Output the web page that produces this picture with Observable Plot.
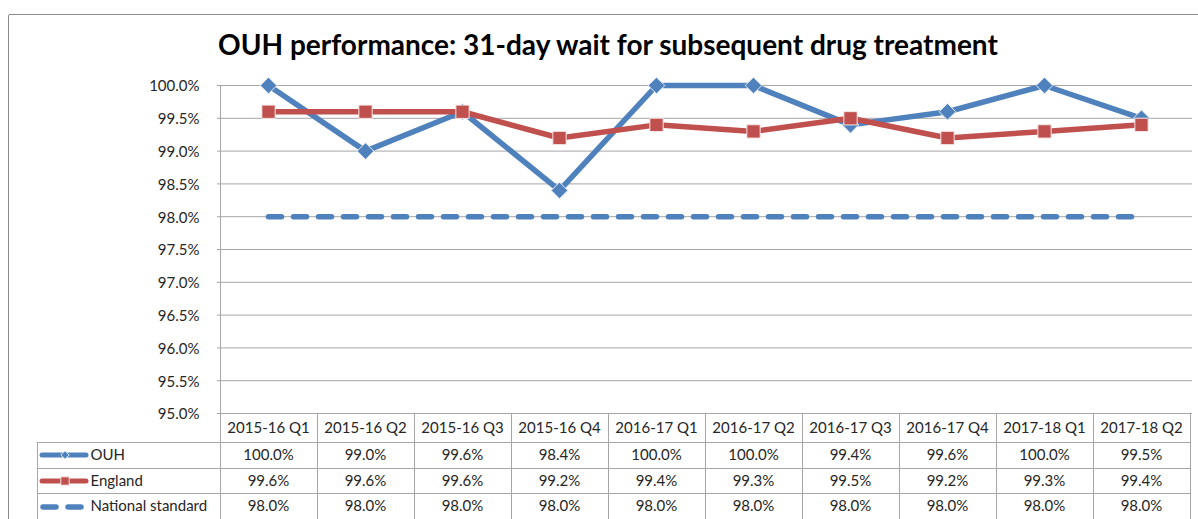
<!DOCTYPE html>
<html>
<head>
<meta charset="utf-8">
<script src="https://cdn.jsdelivr.net/npm/d3@7"></script>
<script src="https://cdn.jsdelivr.net/npm/@observablehq/plot@0.6"></script>
<style>
  body { margin: 0; background: #fff; }
  #wrap { position: relative; width: 1198px; height: 519px; overflow: hidden; font-family: Lato, "Open Sans", sans-serif; }
  #wrap svg { position: absolute; left: 0; top: 0; }
  #title { position: absolute; left: 8px; width: 1200px; top: 30px; text-align: center; font-weight: bold; font-size: 28px; line-height: 28px; color: #000; z-index: 2; }
</style>
</head>
<body>
<div id="wrap">
  <div id="title">OUH performance: 31-day wait for subsequent drug treatment</div>
</div>
<script>
const quarters = ["2015-16 Q1", "2015-16 Q2", "2015-16 Q3", "2015-16 Q4", "2016-17 Q1", "2016-17 Q2", "2016-17 Q3", "2016-17 Q4", "2017-18 Q1", "2017-18 Q2"];
const ouh = [1.000, 0.990, 0.996, 0.984, 1.000, 1.000, 0.994, 0.996, 1.000, 0.995];
const england = [0.996, 0.996, 0.996, 0.992, 0.994, 0.993, 0.995, 0.992, 0.993, 0.994];
const nationalStandard = [0.980, 0.980, 0.980, 0.980, 0.980, 0.980, 0.980, 0.980, 0.980, 0.980];
const yTicks = [0.950, 0.955, 0.960, 0.965, 0.970, 0.975, 0.980, 0.985, 0.990, 0.995, 1.000];
const seriesNames = ["OUH", "England", "National standard"];

const BLUE = "#4f81bd", RED = "#c0504d", GRID = "#a6a6a6", TXT = "#262626";
const pct = d3.format(".1%");

const data = quarters.map((q, i) => ({quarter: q, ouh: ouh[i], england: england[i], standard: nationalStandard[i]}));
const rowDy = [46, 72, 97];
const rowKeys = ["ouh", "england", "standard"];

const plot = Plot.plot({
  width: 1198,
  height: 519,
  marginLeft: 217,
  marginRight: 6,
  marginTop: 85,
  marginBottom: 106,
  style: {fontFamily: "Lato, 'Open Sans', sans-serif", fontSize: "15px", color: TXT, background: "transparent", overflow: "visible"},
  x: {type: "point", domain: quarters, padding: 0.5, axis: null},
  y: {domain: [0.95, 1.0], axis: null},
  marks: [
    Plot.ruleY(yTicks, {stroke: GRID, strokeWidth: 1, strokeOpacity: 1}),
    Plot.axisY(yTicks, {tickFormat: pct, tickSize: 0, tickPadding: 18, fontSize: 15, dy: 1}),
    Plot.line(data, {x: "quarter", y: "standard", stroke: BLUE, strokeWidth: 5.5, strokeDasharray: "13,12", strokeLinecap: "round"}),
    Plot.line(data, {x: "quarter", y: "ouh", stroke: BLUE, strokeWidth: 5.5, strokeLinejoin: "round"}),
    Plot.dot(data, {x: "quarter", y: "ouh", symbol: "diamond2", r: 7.5, fill: BLUE, stroke: "#e8eef7", strokeWidth: 1}),
    Plot.line(data, {x: "quarter", y: "england", stroke: RED, strokeWidth: 5.5, strokeLinejoin: "round"}),
    Plot.dot(data, {x: "quarter", y: "england", symbol: "square", r: 7.5, fill: RED, stroke: "#f6e6e6", strokeWidth: 1}),
    // data table: header
    Plot.text(quarters, {x: d => d, text: d => d, frameAnchor: "bottom", dy: 19, fill: TXT}),
    // data table: values
    ...rowKeys.map((k, j) => Plot.text(data, {x: "quarter", text: d => pct(d[k]), frameAnchor: "bottom", dy: rowDy[j], fill: TXT})),
    // data table: row labels
    ...seriesNames.map((n, j) => Plot.text([n], {text: d => d, frameAnchor: "bottom-left", dx: -127, dy: rowDy[j], textAnchor: "start", fill: TXT}))
  ]
});

document.getElementById("wrap").appendChild(plot);

// table grid & legend keys, positioned from the plot's own x scale
const sx = plot.scale("x");
const step = sx.apply(quarters[1]) - sx.apply(quarters[0]);
const left = sx.apply(quarters[0]) - step / 2;
const right = left + step * quarters.length;
const yBase = 413;
const svg = d3.select(plot);
const g = svg.append("g").attr("stroke", GRID).attr("stroke-width", 1).attr("fill", "none").attr("shape-rendering", "crispEdges");
// outer chart border
g.append("line").attr("x1", 8.5).attr("x2", 1198).attr("y1", 14.5).attr("y2", 14.5).attr("stroke", "#8c8c8c");
g.append("line").attr("x1", 8.5).attr("x2", 8.5).attr("y1", 14.5).attr("y2", 519).attr("stroke", "#8c8c8c");
// vertical axis line
g.append("line").attr("x1", left + 0.5).attr("x2", left + 0.5).attr("y1", 85).attr("y2", 519);
for (let k = 1; k <= quarters.length; k++) {
  const xx = Math.round(left + k * step) + 0.5;
  g.append("line").attr("x1", xx).attr("x2", xx).attr("y1", yBase).attr("y2", 519);
}
g.append("line").attr("x1", 37.5).attr("x2", 37.5).attr("y1", 442).attr("y2", 519);
[442, 468, 493].forEach(yy => g.append("line").attr("x1", 37).attr("x2", right).attr("y1", yy + 0.5).attr("y2", yy + 0.5));

// legend keys
const kg = svg.append("g");
kg.append("line").attr("x1", 42).attr("x2", 86).attr("y1", 455).attr("y2", 455).attr("stroke", BLUE).attr("stroke-width", 5).attr("stroke-linecap", "round");
kg.append("path").attr("d", d3.symbol(d3.symbolDiamond2, 45)()).attr("transform", "translate(65,455)").attr("fill", BLUE).attr("stroke", "#e8eef7");
kg.append("line").attr("x1", 42).attr("x2", 86).attr("y1", 481).attr("y2", 481).attr("stroke", RED).attr("stroke-width", 5).attr("stroke-linecap", "round");
kg.append("path").attr("d", d3.symbol(d3.symbolSquare, 70)()).attr("transform", "translate(65,481)").attr("fill", RED).attr("stroke", "#f6e6e6");
kg.append("line").attr("x1", 43).attr("x2", 86).attr("y1", 507).attr("y2", 507).attr("stroke", BLUE).attr("stroke-width", 5.5).attr("stroke-linecap", "round").attr("stroke-dasharray", "13,12");
</script>
</body>
</html>
